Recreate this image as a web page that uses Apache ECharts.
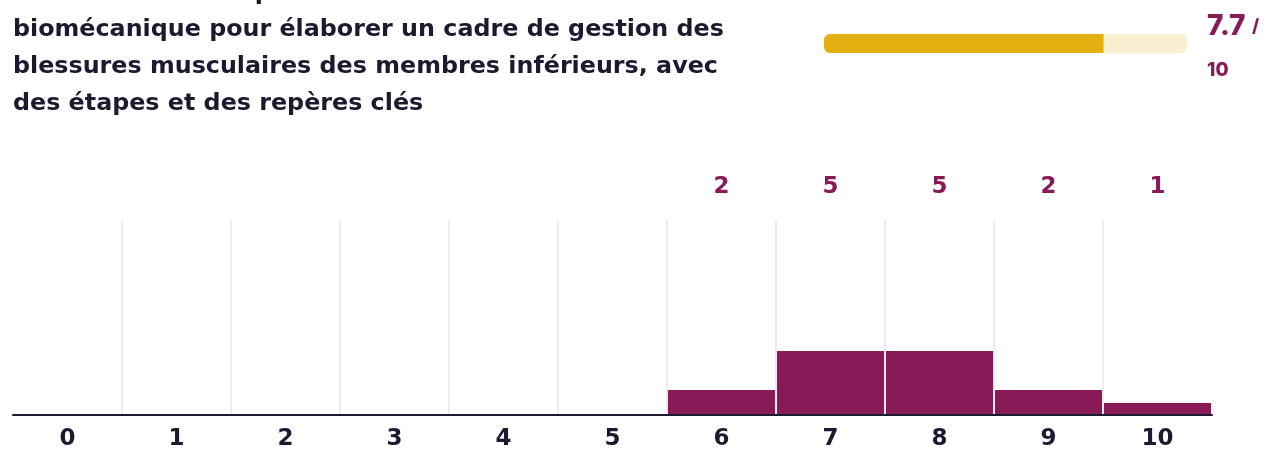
<!DOCTYPE html>
<html>
<head>
<meta charset="utf-8">
<script src="https://cdn.jsdelivr.net/npm/echarts@6/dist/echarts.min.js"></script>
<style>
  html, body { margin: 0; padding: 0; background: #ffffff; }
  #chart { width: 1271px; height: 451px; }
</style>
</head>
<body>
<div id="chart"></div>
<script>
// Question text (the first line runs off the top edge)
const titleLines = [
  "Démontrer une capacité à utiliser la modélisation",
  "biomécanique pour élaborer un cadre de gestion des",
  "blessures musculaires des membres inférieurs, avec",
  "des étapes et des repères clés"
];
// Score buckets and how many answers fell in each
const scoreLabels = ["0", "1", "2", "3", "4", "5", "6", "7", "8", "9", "10"];
const counts = [0, 0, 0, 0, 0, 0, 2, 5, 5, 2, 1];
// Average score out of the maximum
const meanScore = 7.7;
const scoreMax = 10;

const total = counts.reduce((a, b) => a + b, 0);

const INK = "#1b1a2e";
const PLUM = "#881a58";
const GOLD = "#e4af10";
const GOLD_LIGHT = "#faefd0";
const HEAVY = "'DejaVu Sans', sans-serif";
const TIGHT = "Inter, 'Noto Sans', sans-serif";

// separators only between buckets, none at the outer edges
const splitColors = scoreLabels.slice(1).map(() => "#ececec");
splitColors.unshift("rgba(0,0,0,0)");
splitColors.push("rgba(0,0,0,0)");

const chart = echarts.init(document.getElementById("chart"), null, { renderer: "canvas" });

chart.setOption({
  animation: false,
  textStyle: { fontFamily: HEAVY },
  grid: [
    { left: 13, right: 59, top: 220, bottom: 32 },
    { left: 824, width: 363, top: 34, height: 19 }
  ],
  xAxis: [
    {
      type: "category",
      gridIndex: 0,
      z: 5,
      data: scoreLabels,
      axisLine: { show: true, lineStyle: { color: INK, width: 2 } },
      axisTick: { show: false },
      axisLabel: { color: INK, fontSize: 23, fontWeight: "bold", margin: 13, fontFamily: HEAVY },
      splitLine: { show: true, lineStyle: { color: splitColors, width: 2 } }
    },
    {
      type: "category",
      gridIndex: 0,
      position: "top",
      data: scoreLabels,
      axisLine: { show: false },
      axisTick: { show: false },
      splitLine: { show: false },
      axisLabel: {
        color: PLUM, fontSize: 23, fontWeight: "bold", margin: 21, fontFamily: HEAVY,
        formatter: (v, i) => (counts[i] > 0 ? String(counts[i]) : "")
      }
    },
    { type: "value", gridIndex: 1, min: 0, max: scoreMax, show: false }
  ],
  yAxis: [
    { type: "value", gridIndex: 0, min: 0, max: total, show: false, splitLine: { show: false } },
    { type: "category", gridIndex: 1, data: [""], show: false }
  ],
  series: [
    {
      type: "bar",
      xAxisIndex: 0,
      yAxisIndex: 0,
      data: counts,
      barCategoryGap: "0%",
      itemStyle: { color: PLUM, borderColor: "#ffffff", borderWidth: 1 },
      z: 3
    },
    {
      type: "bar",
      xAxisIndex: 2,
      yAxisIndex: 1,
      data: [meanScore],
      barWidth: 19,
      showBackground: true,
      backgroundStyle: { color: GOLD_LIGHT, borderRadius: 6 },
      itemStyle: { color: GOLD, borderRadius: [6, 0, 0, 6] }
    }
  ],
  graphic: [
    {
      type: "text",
      left: 13,
      top: -26,
      style: {
        text: titleLines.join("\n"),
        font: "bold 23.8px " + HEAVY,
        lineHeight: 37,
        fill: INK
      }
    },
    {
      type: "text",
      left: 1207,
      top: 13,
      style: {
        text: "{a|" + meanScore.toFixed(1) + "}  {b|/}\n{c|" + scoreMax + "}",
        rich: {
          a: { fontSize: 28, fontWeight: 800, fill: PLUM, fontFamily: TIGHT, lineHeight: 43 },
          b: { fontSize: 18, fontWeight: 800, fill: PLUM, fontFamily: TIGHT, lineHeight: 43 },
          c: { fontSize: 19, fontWeight: 800, fill: PLUM, fontFamily: TIGHT, lineHeight: 43 }
        }
      }
    }
  ]
});
</script>
</body>
</html>
